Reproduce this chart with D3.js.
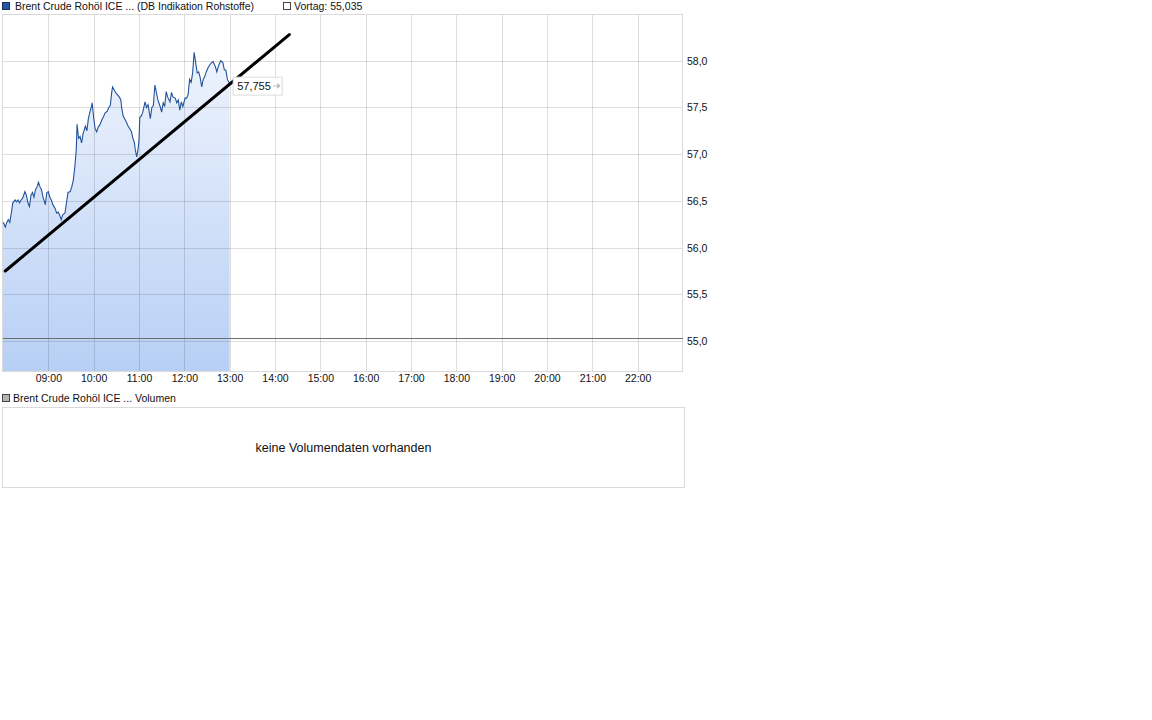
<!DOCTYPE html>
<html>
<head>
<meta charset="utf-8">
<script src="https://cdn.jsdelivr.net/npm/d3@7"></script>
<style>
  body { margin: 0; background: #fff; }
  svg text { font-family: "Liberation Sans", Arial, sans-serif; fill: #111; }
</style>
</head>
<body>
<svg id="chart" width="1152" height="720"></svg>
<script>
// intraday quotes
const times = ["08:00","08:01","08:03","08:05","08:07","08:09","08:11","08:13","08:16","08:18",
  "08:20","08:22","08:24","08:26","08:29","08:31","08:33","08:35","08:37","08:39",
  "08:41","08:43","08:45","08:47","08:49","08:51","08:53","08:56","08:58","09:00",
  "09:02","09:04","09:06","09:09","09:11","09:13","09:15","09:17","09:19","09:22",
  "09:24","09:26","09:29","09:31","09:33","09:35","09:37","09:38","09:40","09:42",
  "09:44","09:46","09:49","09:51","09:53","09:55","09:57","09:58","10:00","10:02",
  "10:04","10:06","10:08","10:11","10:13","10:15","10:18","10:20","10:22","10:24",
  "10:25","10:27","10:29","10:31","10:34","10:36","10:37","10:39","10:41","10:43",
  "10:45","10:48","10:50","10:52","10:54","10:55","10:57","10:59","11:00","11:01",
  "11:03","11:05","11:08","11:10","11:12","11:15","11:17","11:19","11:21","11:23",
  "11:25","11:28","11:30","11:32","11:34","11:36","11:38","11:41","11:43","11:45",
  "11:48","11:50","11:52","11:54","11:56","11:58","12:01","12:03","12:05","12:07",
  "12:09","12:11","12:13","12:15","12:17","12:19","12:21","12:23","12:25","12:27",
  "12:29","12:31","12:34","12:36","12:38","12:41","12:43","12:45","12:48","12:51",
  "12:53","12:55","12:57","13:00"];
const prices = [56.27,56.26,56.22,56.27,56.30,56.27,56.37,56.48,56.51,56.49,
  56.51,56.48,56.51,56.53,56.60,56.56,56.48,56.44,56.56,56.59,
  56.54,56.62,56.65,56.70,56.65,56.62,56.54,56.46,56.59,56.60,
  56.54,56.51,56.46,56.42,56.37,56.38,56.35,56.30,56.35,56.37,
  56.48,56.59,56.60,56.65,56.72,56.86,57.05,57.32,57.17,57.19,
  57.12,57.22,57.30,57.25,57.38,57.45,57.51,57.55,57.39,57.27,
  57.24,57.29,57.31,57.37,57.40,57.44,57.46,57.50,57.52,57.67,
  57.72,57.69,57.66,57.64,57.61,57.58,57.50,57.41,57.38,57.35,
  57.31,57.27,57.24,57.17,57.12,57.05,56.97,57.07,57.15,57.39,
  57.41,57.45,57.56,57.50,57.53,57.38,57.50,57.52,57.74,57.66,
  57.58,57.51,57.45,57.55,57.51,57.67,57.61,57.56,57.66,57.61,
  57.60,57.55,57.58,57.47,57.56,57.51,57.60,57.60,57.64,57.80,
  57.77,57.87,58.09,57.98,57.87,57.88,57.82,57.72,57.80,57.83,
  57.88,57.92,57.96,57.98,57.99,57.94,57.88,57.94,58.00,57.98,
  57.90,57.90,57.80,57.755];

const prevClose = 55.035;
const prevCloseLabel = "55,035";
const lastLabel = "57,755";

// hand-drawn trend line
const trendTimes = ["08:03", "14:19"];
const trendPrices = [55.75, 58.28];

const yTicks = [55.0, 55.5, 56.0, 56.5, 57.0, 57.5, 58.0];
const yDomain = [54.68, 58.5];
const xDomain = ["08:00", "23:00"];
const xTickLabels = ["09:00","10:00","11:00","12:00","13:00","14:00","15:00","16:00",
  "17:00","18:00","19:00","20:00","21:00","22:00"];

const seriesName = "Brent Crude Rohöl ICE ... (DB Indikation Rohstoffe)";
const volumeName = "Brent Crude Rohöl ICE ... Volumen";
const noVolume = "keine Volumendaten vorhanden";

const parse = d3.timeParse("%H:%M");
const de = d3.formatLocale({ decimal: ",", thousands: ".", grouping: [3], currency: ["", " €"] });

const plot = { left: 3, right: 683, top: 14, bottom: 371 };

const svg = d3.select("#chart");

const x = d3.scaleTime()
    .domain(xDomain.map(parse))
    .range([plot.left, plot.right]);

const y = d3.scaleLinear()
    .domain(yDomain)
    .range([plot.bottom, plot.top]);

const data = times.map((t, i) => ({ t: parse(t), p: prices[i] }));

// gradient fill
const grad = svg.append("defs").append("linearGradient")
    .attr("id", "fillGrad")
    .attr("gradientUnits", "userSpaceOnUse")
    .attr("x1", 0).attr("x2", 0)
    .attr("y1", plot.top).attr("y2", plot.bottom);
grad.append("stop").attr("offset", "0%").attr("stop-color", "#f5f8fe");
grad.append("stop").attr("offset", "100%").attr("stop-color", "#b7cff5");

// legend
svg.append("rect").attr("x", 2.5).attr("y", 2.5).attr("width", 7).attr("height", 7)
    .attr("fill", "#2456a8").attr("stroke", "#1a2f55");
svg.append("text").attr("x", 15).attr("y", 6).attr("dy", "0.35em")
    .style("font-size", "10.5px").text(seriesName);
svg.append("rect").attr("x", 283.5).attr("y", 2.5).attr("width", 7).attr("height", 7)
    .attr("fill", "#fff").attr("stroke", "#444");
svg.append("text").attr("x", 294).attr("y", 6).attr("dy", "0.35em")
    .style("font-size", "10.5px").text("Vortag: " + prevCloseLabel);

// area under the price line
svg.append("path")
    .datum(data)
    .attr("fill", "url(#fillGrad)")
    .attr("d", d3.area().x(d => x(d.t)).y0(plot.bottom).y1(d => y(d.p)));

// grid
const hours = d3.timeHour.range(parse("09:00"), parse("23:00"));
svg.append("g").selectAll("line")
    .data(hours)
    .join("line")
    .attr("x1", d => Math.round(x(d)) + 0.5).attr("x2", d => Math.round(x(d)) + 0.5)
    .attr("y1", plot.top).attr("y2", plot.bottom)
    .attr("stroke", "#000").attr("stroke-opacity", 0.13);
svg.append("g").selectAll("line")
    .data(yTicks)
    .join("line")
    .attr("x1", plot.left).attr("x2", plot.right)
    .attr("y1", d => Math.round(y(d)) + 0.5).attr("y2", d => Math.round(y(d)) + 0.5)
    .attr("stroke", "#000").attr("stroke-opacity", 0.13);
svg.append("rect")
    .attr("x", plot.left - 0.5).attr("y", plot.top + 0.5)
    .attr("width", plot.right - plot.left).attr("height", plot.bottom - plot.top)
    .attr("fill", "none").attr("stroke", "#dadada");

// previous close
svg.append("line")
    .attr("x1", plot.left).attr("x2", plot.right)
    .attr("y1", Math.round(y(prevClose)) + 0.5).attr("y2", Math.round(y(prevClose)) + 0.5)
    .attr("stroke", "#6e6e6e");

// price line
svg.append("path")
    .datum(data)
    .attr("fill", "none")
    .attr("stroke", "#22539a")
    .attr("stroke-width", 1.1)
    .attr("d", d3.line().x(d => x(d.t)).y(d => y(d.p)));

// trend line
svg.append("line")
    .attr("x1", x(parse(trendTimes[0]))).attr("y1", y(trendPrices[0]))
    .attr("x2", x(parse(trendTimes[1]))).attr("y2", y(trendPrices[1]))
    .attr("stroke", "#000").attr("stroke-width", 3).attr("stroke-linecap", "round");

// last price tag
const last = data[data.length - 1];
const tagX = x(last.t) + 3.5, tagY = y(last.p) - 6.5;
svg.append("rect").attr("x", tagX).attr("y", tagY).attr("width", 49).attr("height", 18)
    .attr("fill", "#fff").attr("stroke", "#dcdcdc");
svg.append("text").attr("x", tagX + 4).attr("y", tagY + 9).attr("dy", "0.35em")
    .style("font-size", "11px").text(lastLabel);
svg.append("path")
    .attr("d", `M${tagX + 40},${tagY + 8.5} h4 v-2.5 l3.5,3 l-3.5,3 v-2.5 h-4 z`)
    .attr("fill", "#bdbdbd");

// axes
const yAxis = svg.append("g")
    .attr("transform", `translate(${plot.right},0)`)
    .call(d3.axisRight(y).tickValues(yTicks).tickSize(0).tickPadding(4).tickFormat(de.format(".1f")));
const xAxis = svg.append("g")
    .attr("transform", `translate(0,${plot.bottom})`)
    .call(d3.axisBottom(x).tickValues(xTickLabels.map(parse)).tickSize(0).tickPadding(4)
        .tickFormat(d3.timeFormat("%H:%M")));
[yAxis, xAxis].forEach(a => {
    a.select(".domain").remove();
    a.selectAll("text").style("font-size", "10.5px").style("font-family", null).attr("fill", "#111");
});

// volume panel
svg.append("rect").attr("x", 2.5).attr("y", 394.5).attr("width", 7).attr("height", 7)
    .attr("fill", "#b4b4b4").attr("stroke", "#444");
svg.append("text").attr("x", 13).attr("y", 398.5).attr("dy", "0.35em")
    .style("font-size", "10.5px").text(volumeName);
svg.append("rect").attr("x", 2.5).attr("y", 407.5).attr("width", 682).attr("height", 80)
    .attr("fill", "#fff").attr("stroke", "#dadada");
svg.append("text").attr("x", 343.5).attr("y", 447.5).attr("dy", "0.35em")
    .attr("text-anchor", "middle").style("font-size", "12.5px").text(noVolume);
</script>
</body>
</html>
